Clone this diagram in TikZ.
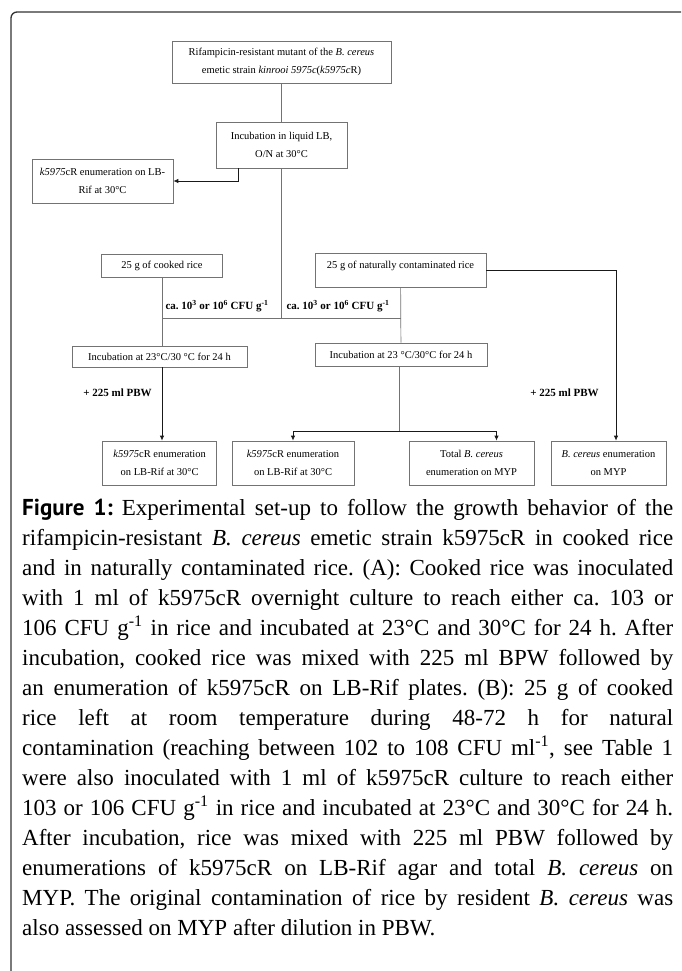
\documentclass[tikz,border=0pt]{standalone}
\usepackage{fontspec}
\setmainfont{Liberation Serif}
\newfontfamily\capfont{PT Sans}
\usetikzlibrary{arrows.meta}
\frenchspacing

\tikzset{
  flowbox/.style={draw=black!55, line width=0.7pt, inner sep=0pt, align=center,
    font=\fontsize{10.5}{18.5}\selectfont},
  link/.style={draw=black!55, line width=0.7pt},
  arr/.style={draw=black!90, line width=0.8pt, -{Latex[length=5pt,width=4.5pt]}},
  note/.style={inner sep=0pt, font=\fontsize{11}{13}\selectfont\bfseries},
  capt/.style={text width=651pt, align=justify, inner sep=0pt,
    font=\fontsize{23}{30}\selectfont},
}

\begin{document}
\begin{tikzpicture}[x=1pt, y=-1pt]
    \useasboundingbox (0,0) rectangle (681,971);

    % frame
    \draw[black!80, line width=1.3pt, rounded corners=6pt]
      (11,971) -- (11,12) -- (681,12)
    ;

    % boxes
    \node[flowbox, minimum width=219pt, minimum height=42pt] (strain) at (281.5,62)
      {Rifampicin-resistant mutant of the \textit{B. cereus}\\emetic strain \textit{kinrooi 5975c}(\textit{k5975c}R)};
    \node[flowbox, minimum width=131pt, minimum height=46pt] (lbinc) at (281.5,145)
      {Incubation in liquid LB,\\O/N at 30°C};
    \node[flowbox, minimum width=141pt, minimum height=44pt] (lbrif) at (102.5,181)
      {\textit{k5975}cR enumeration on LB-\\Rif at 30°C};
    \node[flowbox, minimum width=121pt, minimum height=23pt] (cooked) at (162,266)
      {25 g of cooked rice};
    \node[flowbox, minimum width=171pt, minimum height=34pt, text height=7pt, text depth=10pt] (natural) at (400.5,270)
      {25 g of naturally contaminated rice};
    \node[flowbox, minimum width=175pt, minimum height=21pt] (inccook) at (159.5,356.5)
      {Incubation at 23°C/30 °C for 24 h};
    \node[flowbox, minimum width=172pt, minimum height=23pt] (incnat) at (401,354.5)
      {Incubation at 23 °C/30°C for 24 h};
    \node[flowbox, minimum width=114pt, minimum height=44pt] (enumA) at (159.7,463)
      {\textit{k5975}cR enumeration\\on LB-Rif at 30°C};
    \node[flowbox, minimum width=122pt, minimum height=44pt] (enumB) at (293,463)
      {\textit{k5975}cR enumeration\\on LB-Rif at 30°C};
    \node[flowbox, minimum width=125pt, minimum height=44pt] (totbc) at (471.5,463)
      {Total \textit{B. cereus}\\enumeration on MYP};
    \node[flowbox, minimum width=115pt, minimum height=44pt] (bcmyp) at (608.5,463)
      {\textit{B. cereus} enumeration\\on MYP};

    % labels
    \node[note] (doseA) at (217,306) {ca. 10\textsuperscript{3} or 10\textsuperscript{6} CFU g\textsuperscript{-1}};
    \node[note] (doseB) at (338,306) {ca. 10\textsuperscript{3} or 10\textsuperscript{6} CFU g\textsuperscript{-1}};
    \node[note] (pbwA) at (117.5,393) {+ 225 ml PBW};
    \node[note] (pbwB) at (564.5,393) {+ 225 ml PBW};

    \coordinate (mix) at (281.5,318);
    \coordinate (split) at (399,431);

    % connectors
    \draw[link] (strain) -- (lbinc);
    \draw[arr] ([xshift=-43pt]lbinc.south) |- (lbrif);
    \draw[link] (lbinc) -- (mix);
    \draw[link] (cooked) -- (cooked.south |- inccook.north);
    \draw[link] (mix -| cooked.south) -- (mix -| natural.south);
    \draw[link] (natural) -- (incnat);
    \draw[arr] (cooked.south |- inccook.south) -- (cooked.south |- enumA.north);
    \draw[link] (incnat.south -| split) -- (split);
    \draw[arr] (split) -| (enumB.north);
    \draw[arr] (split) -| ([xshift=25pt]totbc.north);
    \draw[arr] (natural.east) -| ([xshift=7.5pt]bcmyp.north);

    % caption
    \node[capt, anchor=north west] (caption) at (22,499)
      {\hyphenpenalty=10000\tolerance=9999{\capfont\bfseries Figure 1:} Experimental set-up to follow the growth behavior of the\linebreak
      rifampicin-resistant \textit{B. cereus} emetic strain k5975cR in cooked rice\linebreak
      and in naturally contaminated rice. (A): Cooked rice was inoculated\linebreak
      with 1 ml of k5975cR overnight culture to reach either ca. 103 or\linebreak
      106 CFU g\textsuperscript{-1} in rice and incubated at 23°C and 30°C for 24 h. After\linebreak
      incubation, cooked rice was mixed with 225 ml BPW followed by\linebreak
      an enumeration of k5975cR on LB-Rif plates. (B): 25 g of cooked\linebreak
      rice left at room temperature during 48-72 h for natural\linebreak
      contamination (reaching between 102 to 108 CFU ml\textsuperscript{-1}, see Table 1\linebreak
      were also inoculated with 1 ml of k5975cR culture to reach either\linebreak
      103 or 106 CFU g\textsuperscript{-1} in rice and incubated at 23°C and 30°C for 24 h.\linebreak
      After incubation, rice was mixed with 225 ml PBW followed by\linebreak
      enumerations of k5975cR on LB-Rif agar and total \textit{B. cereus} on\linebreak
      MYP. The original contamination of rice by resident \textit{B. cereus} was\linebreak
      also assessed on MYP after dilution in PBW.};
\end{tikzpicture}
\end{document}
